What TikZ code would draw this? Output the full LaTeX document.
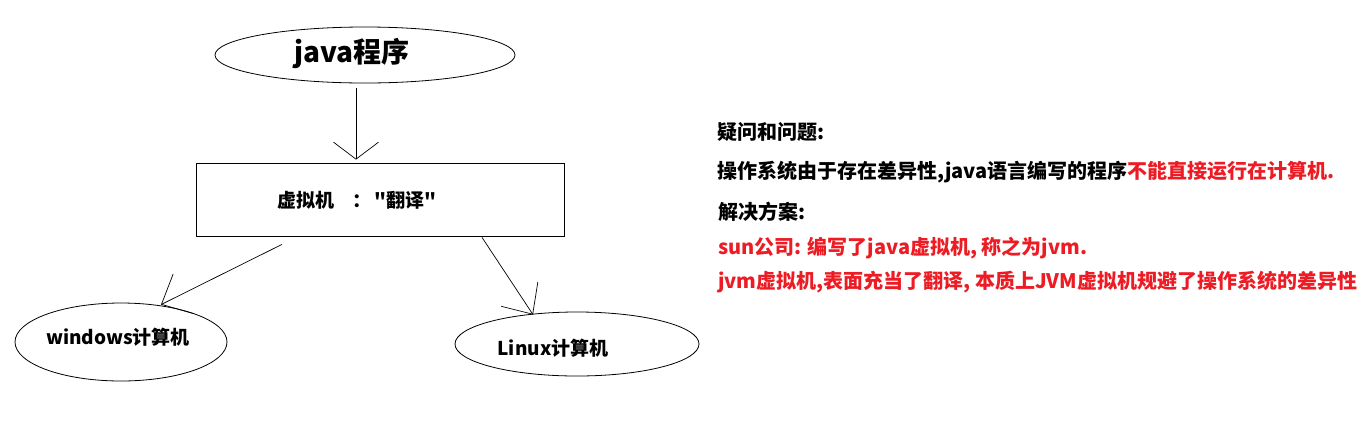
\documentclass[tikz,border=0pt]{standalone}
\usepackage{fontspec}
\setmainfont{Noto Sans CJK SC}[Ligatures=TeXOff]
\usetikzlibrary{arrows.meta,shapes.geometric}
\definecolor{redtxt}{RGB}{237,28,36}
\begin{document}
\begin{tikzpicture}[x=1pt,y=-1pt,
  shp/.style={draw=black,line width=0.8pt},
  oval/.style={shp,ellipse,inner sep=0pt},
  txt/.style={font=\bfseries\fontsize{19}{19}\selectfont,inner sep=0pt},
  big/.style={font=\bfseries\fontsize{28}{28}\selectfont,inner sep=0pt},
  lft/.style={font=\bfseries\fontsize{20}{20}\selectfont,inner sep=0pt,anchor=west},
  harrow/.style={line width=0.7pt,-{Straight Barb[length=24pt,width=44pt]}},
  varrow/.style={line width=0.7pt,-{Straight Barb[length=17pt,width=45pt]}}]
\useasboundingbox (0,0) rectangle (1363,424);
\fill[white] (0,0) rectangle (1363,424);
% shapes
\node[oval,minimum width=300pt,minimum height=56pt] (java) at (365,55) {};
\node[big] (javatxt) at (352,53) {java程序};
\node[shp,rectangle,minimum width=368pt,minimum height=73pt,inner sep=0pt] (vm) at (380,199.5) {};
\node[txt] (vmtxt) at (357,200) {虚拟机\hspace{18pt}：\hspace{4pt}"翻译"};
\node[oval,minimum width=212pt,minimum height=78pt] (win) at (121,342) {};
\node[txt] (wintxt) at (118,337) {windows计算机};
\node[oval,minimum width=244pt,minimum height=64pt] (lin) at (577,344) {};
\node[txt] (lintxt) at (553,348) {Linux计算机};
% connectors
\draw[varrow] ([xshift=-9pt,yshift=-5pt]java.south) -- ([xshift=-24pt,yshift=3pt]vm.north);
\draw[harrow] ([xshift=-98pt,yshift=-8pt]vm.south) -- ([xshift=40pt,yshift=-2pt]win.north);
\draw[harrow] ([xshift=102pt,yshift=-1pt]vm.south) -- ([xshift=-44pt,yshift=-3pt]lin.north);
% right text
\node[lft] (q1) at (717,132) {疑问和问题:};
\node[lft] (q2) at (717,172) {操作系统由于存在差异性,java语言编写的程序\textcolor{redtxt}{不能直接运行在计算机.}};
\node[lft] (q3) at (718,212) {解决方案:};
\node[lft,text=redtxt] (q4) at (718,248) {sun公司: 编写了java虚拟机, 称之为jvm.};
\node[lft,text=redtxt] (q5) at (718,282) {jvm虚拟机,表面充当了翻译, 本质上JVM虚拟机规避了操作系统的差异性};
\end{tikzpicture}
\end{document}
